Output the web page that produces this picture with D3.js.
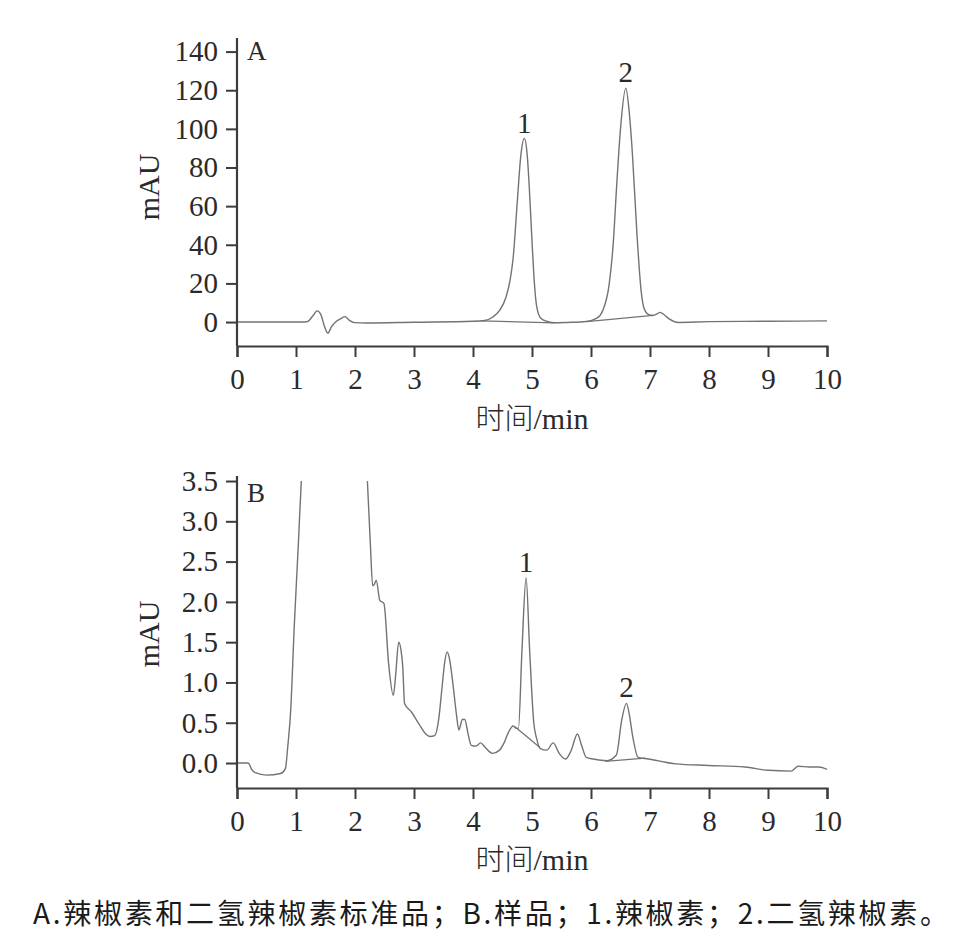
<!DOCTYPE html>
<html><head><meta charset="utf-8">
<script src="https://cdn.jsdelivr.net/npm/d3@7"></script>
<style>
body{margin:0;background:#fff;}
svg{display:block;}
</style></head>
<body>
<svg id="chart" width="972" height="948"></svg>
<script>
// ---- Data ----
const xTicks = [0,1,2,3,4,5,6,7,8,9,10];
const yTicksA = [0,20,40,60,80,100,120,140];
const yTicksB = [0,0.5,1.0,1.5,2.0,2.5,3.0,3.5];

const timeA = [0,1.1,1.2,1.28,1.36,1.42,1.48,1.54,1.6,1.68,1.76,1.83,1.9,1.99,2.2,3.0,4.0,4.2,4.33,4.45,4.56,4.63,4.68,4.75,4.81,4.87,4.92,4.95,5.0,5.03,5.08,5.15,5.26,5.38,5.6,5.92,6.1,6.2,6.31,6.38,6.43,6.5,6.59,6.65,6.7,6.78,6.85,6.9,6.97,7.05,7.12,7.17,7.25,7.33,7.48,8,9,10];
const mauA  = [0,0,0.3,3,5.8,4,-2,-5.7,-2.5,0.3,1.8,2.8,1.0,-0.3,-0.5,-0.1,0.4,0.8,2.5,6,13,22,33,62,86,95,86,72,42,25,8,2,0.3,-0.4,-0.2,0.3,2,6,20,42,68,100,121,108,88,45,16,7,4,3.4,4.2,5,3.5,1.5,-0.2,0.2,0.4,0.6];
const baseA1 = [[4.13,0.6],[5.38,-0.4]];
const baseA2 = [[5.93,0.2],[7.05,3.4]];

const timeB = [0,0.19,0.25,0.31,0.5,0.74,0.82,0.86,0.91,0.97,1.04,1.09,1.14,2.17,2.21,2.26,2.3,2.33,2.36,2.42,2.49,2.57,2.65,2.69,2.74,2.78,2.81,2.84,2.96,3.08,3.2,3.27,3.35,3.42,3.47,3.52,3.56,3.6,3.66,3.72,3.76,3.82,3.86,3.92,3.97,4.05,4.13,4.2,4.33,4.45,4.52,4.6,4.68,4.73,4.77,4.83,4.9,4.96,5.03,5.08,5.14,5.25,5.36,5.46,5.57,5.66,5.77,5.84,5.92,6.04,6.27,6.43,6.52,6.6,6.65,6.7,6.8,6.97,7.44,7.99,8.61,9.0,9.39,9.51,9.7,9.86,10];
const mauB  = [0,0,-0.08,-0.12,-0.15,-0.13,-0.07,0.2,0.65,1.69,2.72,3.5,4.0,4.0,3.5,2.72,2.2,2.22,2.27,2.02,1.98,1.23,0.84,1.1,1.5,1.4,1.19,0.74,0.63,0.49,0.36,0.33,0.34,0.55,0.9,1.25,1.38,1.3,0.98,0.6,0.41,0.54,0.54,0.35,0.22,0.21,0.25,0.2,0.12,0.16,0.24,0.38,0.46,0.43,0.43,1.4,2.3,1.4,0.5,0.3,0.18,0.16,0.25,0.12,0.05,0.15,0.36,0.22,0.07,0.05,0.03,0.1,0.53,0.74,0.6,0.36,0.07,0.05,-0.01,-0.03,-0.05,-0.09,-0.1,-0.04,-0.05,-0.05,-0.08];
const baseB1 = [[4.71,0.45],[5.14,0.19]];
const baseB2 = [[6.24,0.02],[6.92,0.06]];

const peakLabelsA = [{t:4.87,v:95,label:"1"},{t:6.59,v:121,label:"2"}];
const peakLabelsB = [{t:4.9,v:2.3,label:"1"},{t:6.6,v:0.74,label:"2"}];

const caption = "A.辣椒素和二氢辣椒素标准品；B.样品；1.辣椒素；2.二氢辣椒素。";

// ---- Drawing ----
const svg = d3.select("#chart");
const AXIS = "#3c3c3c", TRACE = "#737373", TEXT = "#2a2a2a";
const SERIF = "'Liberation Serif','Times New Roman',serif";

function panel(cfg){
  const g = svg.append("g");
  const x = d3.scaleLinear().domain([0,10]).range([cfg.left, cfg.right]);
  const y = d3.scaleLinear().domain(cfg.yDomain).range([cfg.bottom, cfg.top]);

  const clipId = "clip"+cfg.name;
  svg.append("clipPath").attr("id",clipId).append("rect")
    .attr("x",cfg.left).attr("y",y(cfg.clipTop)).attr("width",cfg.right-cfg.left+2)
    .attr("height",cfg.bottom - y(cfg.clipTop));

  const line = d3.line().x(d=>x(d[0])).y(d=>y(d[1])).curve(d3.curveMonotoneX);
  const pts = cfg.time.map((t,i)=>[t,cfg.vals[i]]);
  g.append("path").datum(pts).attr("d",line).attr("clip-path","url(#"+clipId+")")
    .attr("fill","none").attr("stroke",TRACE).attr("stroke-width",1.4);
  const lin = d3.line().x(d=>x(d[0])).y(d=>y(d[1]));
  cfg.bases.forEach(b=>{
    g.append("path").datum(b).attr("d",lin).attr("fill","none")
      .attr("stroke",TRACE).attr("stroke-width",1.3);
  });

  const xa = g.append("g").attr("transform",`translate(0,${cfg.bottom})`)
    .call(d3.axisBottom(x).tickValues(xTicks).tickSizeOuter(0).tickSize(11).tickPadding(11).tickFormat(d3.format("d")));
  const ya = g.append("g").attr("transform",`translate(${cfg.left},0)`)
    .call(d3.axisLeft(y).tickValues(cfg.yTicks).tickSizeOuter(0).tickSize(11).tickPadding(8).tickFormat(cfg.fmt));
  [xa,ya].forEach(a=>{
    a.select(".domain").attr("stroke",AXIS).attr("stroke-width",2.2);
    a.selectAll(".tick line").attr("stroke",AXIS).attr("stroke-width",2);
    a.selectAll(".tick text").attr("fill",TEXT).style("font-family",SERIF).style("font-size","29px");
  });
  ya.select(".domain").attr("d",`M0,${cfg.axisTop}V${cfg.bottom}`);

  g.append("text").attr("x",cfg.left+10).attr("y",cfg.letterY).text(cfg.name)
    .attr("fill",TEXT).style("font-family",SERIF).style("font-size","27px");

  cfg.peaks.forEach(p=>{
    g.append("text").attr("x",x(p.t)).attr("y",y(p.v)-6).attr("text-anchor","middle")
      .text(p.label).attr("fill",TEXT).style("font-family",SERIF).style("font-size","29px");
  });

  g.append("text").attr("transform",`translate(${cfg.left-78},${cfg.yTitleY}) rotate(-90)`)
    .attr("text-anchor","middle").text("mAU").attr("fill",TEXT)
    .style("font-family",SERIF).style("font-size","30px");
  const xt = g.append("text").attr("x",(cfg.left+cfg.right)/2).attr("y",cfg.xTitleY)
    .attr("text-anchor","middle").attr("fill",TEXT).style("font-size","29px");
  xt.append("tspan").text("时间").style("font-family","'Noto Sans CJK SC',sans-serif").style("font-weight","300");
  xt.append("tspan").text("/min").style("font-family",SERIF).style("font-size","30px");
}

panel({name:"A",left:237,right:827,top:40,bottom:346,yDomain:[-12.4,146],clipTop:146,axisTop:38,
  yTicks:yTicksA,fmt:d3.format("d"),time:timeA,vals:mauA,bases:[baseA1,baseA2],peaks:peakLabelsA,
  letterY:60,yTitleY:187,xTitleY:429});
panel({name:"B",left:237,right:827,top:477,bottom:788,yDomain:[-0.31,3.55],clipTop:3.5,axisTop:476,
  yTicks:yTicksB,fmt:d3.format(".1f"),time:timeB,vals:mauB,bases:[baseB1,baseB2],peaks:peakLabelsB,
  letterY:502,yTitleY:634,xTitleY:870});

svg.append("text").attr("x",33).attr("y",924).text(caption)
  .attr("fill","#1a1a1a").attr("textLength",915).attr("lengthAdjust","spacing")
  .style("font-family","'Noto Sans CJK SC',sans-serif").style("font-size","28px").style("font-weight","400");
</script>
</body></html>
